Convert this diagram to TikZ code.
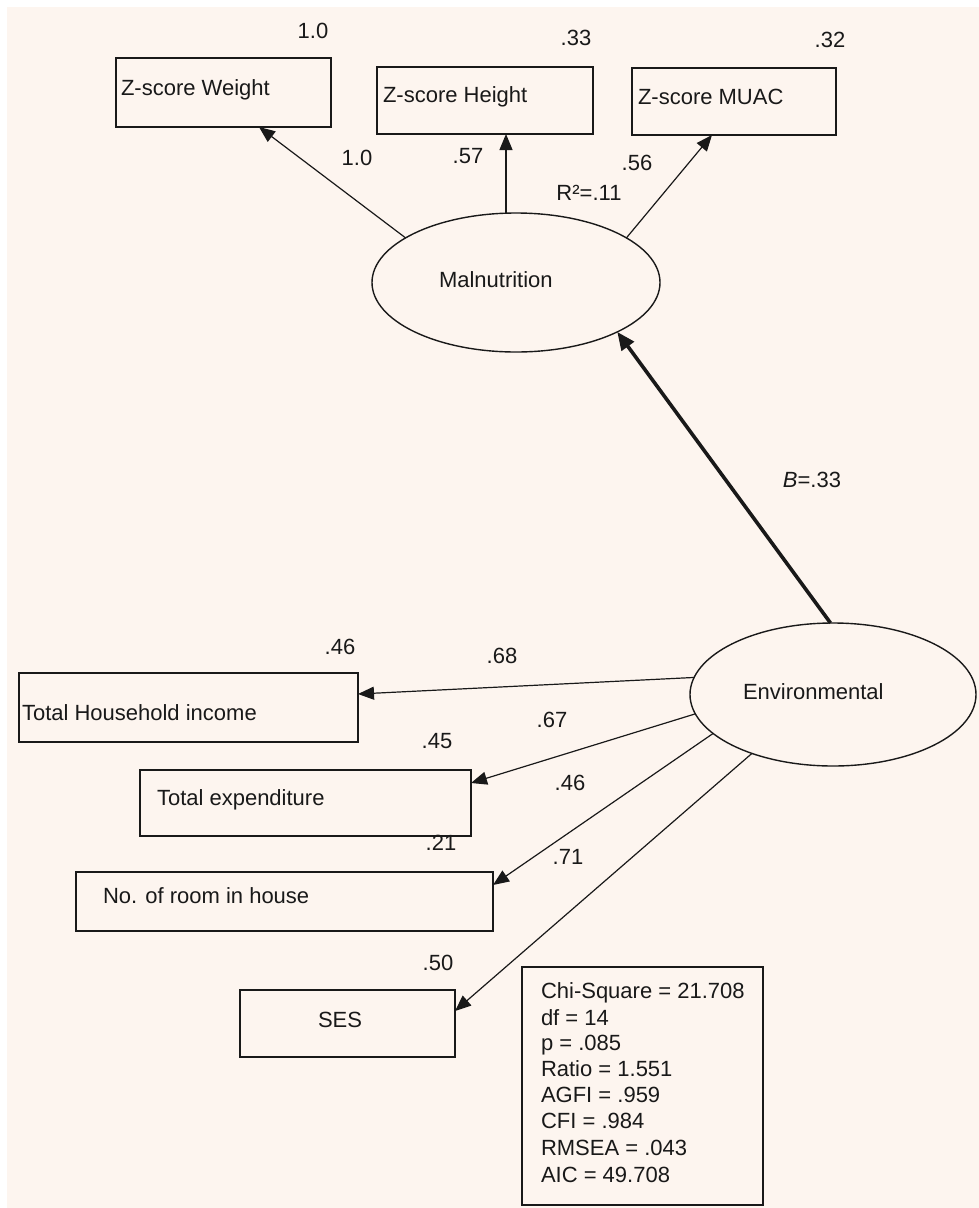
\documentclass[tikz,border=0pt]{standalone}
\usepackage{fontspec}
\setmainfont{Liberation Sans}
\usetikzlibrary{arrows.meta,shapes.geometric}
\definecolor{bgcream}{RGB}{253,245,239}
\definecolor{ink}{RGB}{25,25,25}
\begin{document}
\begin{tikzpicture}[x=1pt,y=-1pt,
  every node/.style={font=\fontsize{22}{26}\selectfont, text=ink, inner sep=0pt, outer sep=0pt},
  obs/.style={draw=ink, line width=1.7pt, rectangle},
  lat/.style={draw=ink, line width=1.4pt, ellipse},
  txt/.style={anchor=base west},
  num/.style={anchor=center},
  conn/.style={draw=ink, line width=1.2pt, -{Triangle[length=16pt,width=13pt]}},
  thickconn/.style={draw=ink, line width=3.6pt, -{Triangle[length=18pt,width=15pt]}}
]
\useasboundingbox (0,0) rectangle (979,1208);
\fill[white] (0,0) rectangle (979,1208);
\fill[bgcream] (7,7) rectangle (979,1208);

% observed boxes
\node[obs, minimum width=215pt, minimum height=69pt] (w) at (223.5,92.5) {};
\node[obs, minimum width=216pt, minimum height=67pt] (h) at (485,100.5) {};
\node[obs, minimum width=204pt, minimum height=67pt] (m) at (734,101.5) {};
\node[obs, minimum width=339pt, minimum height=69pt] (hh) at (188.5,707.5) {};
\node[obs, minimum width=331pt, minimum height=66pt] (ex) at (305.5,803) {};
\node[obs, minimum width=417pt, minimum height=59pt] (rm) at (284.5,901.5) {};
\node[obs, minimum width=215pt, minimum height=67pt] (ses) at (347.5,1023.5) {};
\node[obs, minimum width=241pt, minimum height=238pt] (fit) at (642.5,1086) {};

% latent ellipses
\node[lat, minimum width=288pt, minimum height=139pt] (mal) at (516,282.5) {};
\node[lat, minimum width=286pt, minimum height=143pt] (env) at (833,694.5) {};

% texts in shapes
\node[txt] (wt) at (121,95) {Z-score Weight};
\node[txt] (ht) at (383,102) {Z-score Height};
\node[txt] (mt) at (638,104) {Z-score MUAC};
\node[txt] (malt) at (439,287) {Malnutrition};
\node[txt] (envt) at (743,699) {Environmental};
\node[txt] (hht) at (22,720) {Total Household income};
\node[txt] (ext) at (157,805) {Total expenditure};
\node[txt] (rmt) at (103,903) {No. of room in house};
\node[txt] (sest) at (318,1027) {SES};

% fit statistics
\node[txt] (s1) at (541,998) {Chi-Square = 21.708};
\node[txt] (s2) at (541,1025) {df = 14};
\node[txt] (s3) at (541,1050) {p = .085};
\node[txt] (s4) at (541,1076) {Ratio = 1.551};
\node[txt] (s5) at (541,1102) {AGFI = .959};
\node[txt] (s6) at (541,1128) {CFI = .984};
\node[txt] (s7) at (541,1155) {RMSEA = .043};
\node[txt] (s8) at (541,1182) {AIC = 49.708};

% connectors
\draw[conn] (mal.158.3) -- ([xshift=35.5pt]w.south);
\draw[conn] ([xshift=-10pt]mal.north) -- ([xshift=21pt]h.south);
\draw[conn] (mal.22.4) -- ([xshift=-22pt]m.south);
\draw[thickconn] (env.92.4) -- (mal.-26.6);
\draw[conn] (env.173.9) -- ([yshift=13.5pt]hh.east);
\draw[conn] (env.-172.2) -- ([yshift=20pt]ex.east);
\draw[conn] (env.-162.4) -- ([yshift=16.5pt]rm.east);
\draw[conn] (env.-144.3) -- ([yshift=12.5pt]ses.east);

% numeric labels
\node[num] (l1) at (313,31) {1.0};
\node[num] (l2) at (576,37.5) {.33};
\node[num] (l3) at (830,40) {.32};
\node[num] (l4) at (357,157.5) {1.0};
\node[num] (l5) at (468,156) {.57};
\node[anchor=base] (l6) at (589,200) {R²=.11};
\node[num] (l7) at (637,162.5) {.56};
\node[anchor=base] (l8) at (812,487) {\textit{B}=.33};
\node[num] (l9) at (340,647) {.46};
\node[num] (l10) at (502,656) {.68};
\node[num] (l11) at (437,741) {.45};
\node[num] (l12) at (552,719.5) {.67};
\node[num] (l13) at (441,843) {.21};
\node[num] (l14) at (570,783) {.46};
\node[num] (l15) at (568,857) {.71};
\node[num] (l16) at (438,962.5) {.50};
\end{tikzpicture}
\end{document}
